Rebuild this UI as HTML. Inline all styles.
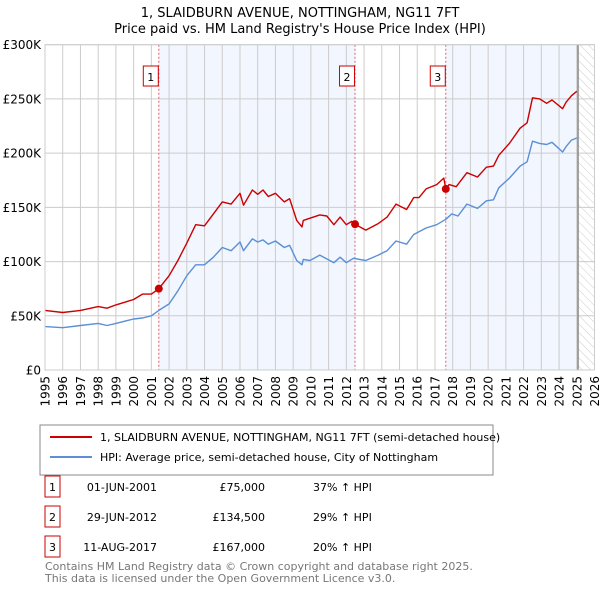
<!DOCTYPE html>
<html><head><meta charset="utf-8"><style>
body{margin:0;background:#fff;font-family:"DejaVu Sans","Liberation Sans",sans-serif}
svg{display:block}
svg text{font-family:"DejaVu Sans","Liberation Sans",sans-serif}
</style></head><body>
<svg id="c" width="600" height="590" viewBox="0 0 600 590" xmlns="http://www.w3.org/2000/svg">
<text x="300" y="17" text-anchor="middle" font-size="13" fill="#000">1, SLAIDBURN AVENUE, NOTTINGHAM, NG11 7FT</text>
<text x="300" y="33" text-anchor="middle" font-size="13" fill="#000">Price paid vs. HM Land Registry's House Price Index (HPI)</text>
<g id="plot"></g>
<g>
<rect x="40" y="425" width="453" height="50" fill="#fff" stroke="#888"/>
<line x1="50" y1="437" x2="92" y2="437" stroke="#cc0000" stroke-width="2"/>
<text x="100" y="441" font-size="11">1, SLAIDBURN AVENUE, NOTTINGHAM, NG11 7FT (semi-detached house)</text>
<line x1="50" y1="457" x2="92" y2="457" stroke="#5b8fd6" stroke-width="2"/>
<text x="100" y="461" font-size="11">HPI: Average price, semi-detached house, City of Nottingham</text>
</g>
<g font-size="11">
<rect x="45" y="476" width="15" height="21" fill="#fff" stroke="#cc0000"/><text x="52.5" y="491" text-anchor="middle">1</text>
<text x="157" y="491" text-anchor="end">01-JUN-2001</text><text x="265" y="491" text-anchor="end">£75,000</text><text x="313" y="491">37% ↑ HPI</text>
<rect x="45" y="506" width="15" height="21" fill="#fff" stroke="#cc0000"/><text x="52.5" y="521" text-anchor="middle">2</text>
<text x="157" y="521" text-anchor="end">29-JUN-2012</text><text x="265" y="521" text-anchor="end">£134,500</text><text x="313" y="521">29% ↑ HPI</text>
<rect x="45" y="536" width="15" height="21" fill="#fff" stroke="#cc0000"/><text x="52.5" y="551" text-anchor="middle">3</text>
<text x="157" y="551" text-anchor="end">11-AUG-2017</text><text x="265" y="551" text-anchor="end">£167,000</text><text x="313" y="551">20% ↑ HPI</text>
</g>
<text x="45" y="570" font-size="11" fill="#777">Contains HM Land Registry data © Crown copyright and database right 2025.</text>
<text x="45" y="582" font-size="11" fill="#777">This data is licensed under the Open Government Licence v3.0.</text>
</svg>
<script>
const yTicks=[0,50,100,150,200,250,300];
const yTickLabels=["£0","£50K","£100K","£150K","£200K","£250K","£300K"];
const xYears=[1995,1996,1997,1998,1999,2000,2001,2002,2003,2004,2005,2006,2007,2008,2009,2010,2011,2012,2013,2014,2015,2016,2017,2018,2019,2020,2021,2022,2023,2024,2025,2026];
const saleYears=[2001.42,2012.49,2017.61];
const saleValues=[75,134.5,167];
const saleLabels=["1","2","3"];
const redYears=[1995,1996,1997,1998,1998.5,1999,2000,2000.5,2001,2001.42,2002,2002.5,2003,2003.5,2004,2004.5,2005,2005.5,2006,2006.2,2006.7,2007,2007.3,2007.6,2008,2008.5,2008.8,2009.2,2009.5,2009.57,2009.95,2010.5,2010.9,2011.3,2011.65,2012,2012.3,2012.49,2013.1,2013.8,2014.3,2014.8,2015.4,2015.8,2016.1,2016.5,2017.1,2017.5,2017.61,2017.8,2018.2,2018.8,2019.4,2019.9,2020.3,2020.6,2021.2,2021.8,2022.2,2022.5,2022.9,2023.3,2023.6,2024.2,2024.4,2024.7,2025.0];
const redValues=[55,53,55,58.5,57,60,65,70,70,75,87,101,117,134,133,144,155,153,163,152,166,162,166,160,163,155,158,138,132,138,140,143,142,134,141,134,137,134.5,129,135,141,153,148,159,159,167,171,177,167,171,169,182,178,187,188,198,209,223,228,251,250,246,249,241,247,253,257];
const hpiYears=[1995,1996,1997,1998,1998.5,1999,2000,2000.5,2001,2001.42,2002,2002.5,2003,2003.5,2004,2004.5,2005,2005.5,2006,2006.2,2006.7,2007,2007.3,2007.6,2008,2008.5,2008.8,2009.2,2009.5,2009.57,2009.95,2010.5,2011.3,2011.65,2012,2012.4,2013.1,2013.8,2014.3,2014.8,2015.4,2015.8,2016.5,2017.1,2017.61,2017.95,2018.3,2018.8,2019.4,2019.9,2020.3,2020.6,2021.2,2021.8,2022.2,2022.5,2022.9,2023.3,2023.6,2024.2,2024.4,2024.7,2025.0];
const hpiValues=[40,39,41,43,41,43,47,48,50,55,61,73,87,97,97,104,113,110,118,110,121,118,120,116,119,113,115,101,97,102,101,106,99,104,99,103,101,106,110,119,116,125,131,134,139,144,142,153,149,156,157,168,177,188,192,211,209,208,210,201,206,212,214];

const NS="http://www.w3.org/2000/svg";
const X0=45,X1=594.5,Y0=370,Y1=44.7;
const xs=y=>X0+(y-1995)/(2026-1995)*(X1-X0);
const ys=v=>Y0-v/300*(Y0-Y1);
const g=document.getElementById('plot');
function mk(t,a,p){const e=document.createElementNS(NS,t);for(const k in a)e.setAttribute(k,a[k]);(p||g).appendChild(e);return e;}

const defs=mk('defs',{});
const pat=mk('pattern',{id:'hatch',width:6,height:6,patternUnits:'userSpaceOnUse',patternTransform:'rotate(-45)'},defs);
mk('line',{x1:0,y1:0,x2:0,y2:6,stroke:'#ccc','stroke-width':1},pat);

let e=mk('rect',{x:xs(saleYears[0]),y:Y1,width:xs(saleYears[1])-xs(saleYears[0]),height:Y0-Y1,fill:'#f2f6fe'});


const endY=2025.07;
e=mk('rect',{x:xs(saleYears[2]),y:Y1,width:xs(endY)-xs(saleYears[2]),height:Y0-Y1,fill:'#f2f6fe'});


e=mk('rect',{x:xs(endY),y:Y1,width:X1-xs(endY),height:Y0-Y1,fill:'url(#hatch)'});



xYears.forEach(y=>{
  const l=mk('line',{x1:xs(y),x2:xs(y),y1:Y1,y2:Y0,stroke:'#ccc','stroke-width':1});
  
  
  const t=mk('text',{x:0,y:0,'font-size':12,'text-anchor':'end',transform:`translate(${xs(y)+4.5},${Y0+6}) rotate(-90)`});
  t.textContent=y;
  
  
});
yTicks.forEach((v,i)=>{
  const l=mk('line',{x1:X0,x2:X1,y1:ys(v),y2:ys(v),stroke:'#ccc','stroke-width':1});
  
  
  const t=mk('text',{x:41,y:ys(v)+4.5,'font-size':12,'text-anchor':'end'});
  t.textContent=yTickLabels[i];
  
  
});
e=mk('line',{x1:xs(endY),x2:xs(endY),y1:Y1,y2:Y0,stroke:'#888','stroke-width':1.5});



saleYears.forEach((y,i)=>{
  const l=mk('line',{x1:xs(y),x2:xs(y),y1:Y1,y2:Y0,stroke:'#e06070','stroke-width':1,'stroke-dasharray':'2,2'});
  
  
});

function path(xa,va,col,name){
  const d=xa.map((y,i)=>(i?'L':'M')+xs(y).toFixed(1)+','+ys(va[i]).toFixed(1)).join('');
  const p=mk('path',{d:d,fill:'none',stroke:col,'stroke-width':1.4,'stroke-linejoin':'round'});
  
  
}
path(hpiYears,hpiValues,'#5b8fd6','hpi-line');
path(redYears,redValues,'#cc0000','price-paid-line');

saleYears.forEach((y,i)=>{
  const c=mk('circle',{cx:xs(y),cy:ys(saleValues[i]),r:4,fill:'#cc0000'});
  
  
  const b=mk('rect',{x:xs(y)-15.5,y:66,width:15,height:20,fill:'#fff',stroke:'#cc0000'});
  
  
  const t=mk('text',{x:xs(y)-8,y:81,'font-size':11,'text-anchor':'middle'});
  t.textContent=saleLabels[i];
  
  
});
e=mk('rect',{x:X0,y:Y1,width:X1-X0,height:Y0-Y1,fill:'none',stroke:'#ccc'});


</script>
</body></html>
